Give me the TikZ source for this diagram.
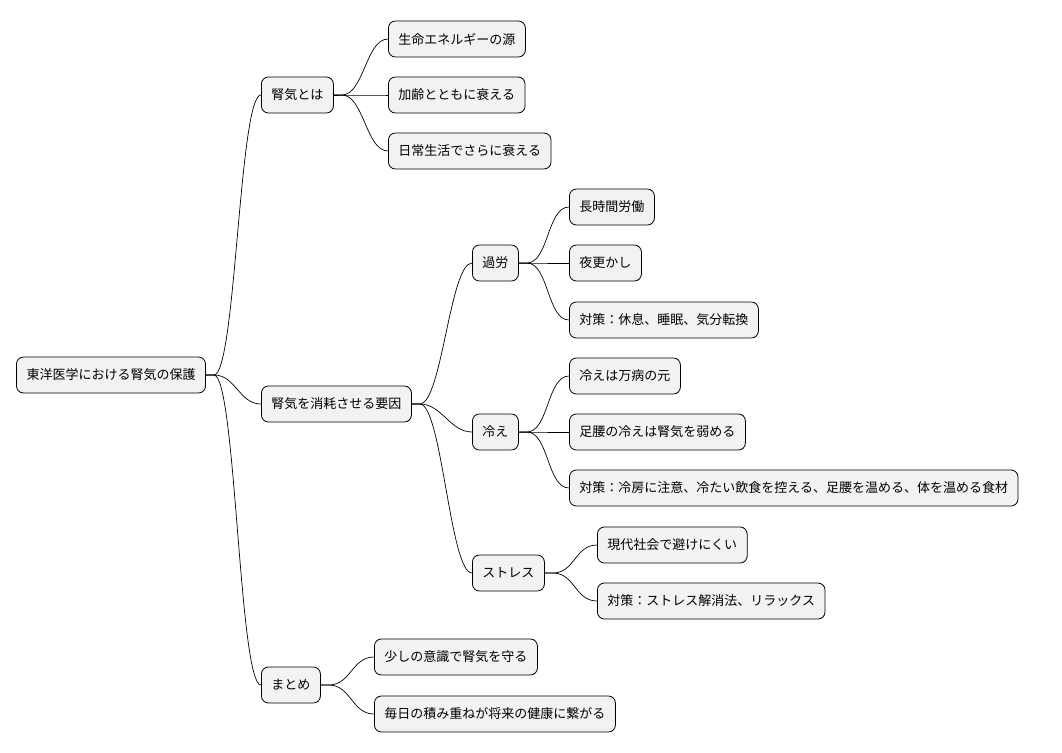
\documentclass[tikz,border=0pt]{standalone}
\usepackage{fontspec}
\setmainfont{Noto Sans CJK JP}
\usetikzlibrary{positioning}
\tikzset{
  topic/.style={rectangle, draw, fill=black!5, rounded corners=7pt, minimum height=36pt,
    inner xsep=10pt, font=\fontsize{13}{15}\selectfont, line width=0.8pt},
  branch/.style={draw, line width=0.7pt}
}
\newcommand{\branchto}[2]{\draw[branch] (#1.east) -- ++(8,0) .. controls +(22,0) and +(-22,0) .. (#2.west);}
\begin{document}
\begin{tikzpicture}[x=1pt,y=-1pt]
  \useasboundingbox (0,0) rectangle (1062,752);
  % Place nodes
  \node [topic] (root) at (111,375) {東洋医学における腎気の保護};
  \node [topic, anchor=west] (kiwa) at (261,95) {腎気とは};
  \node [topic, anchor=west] (k1) at (388,39) {生命エネルギーの源};
  \node [topic, anchor=west] (k2) at (388,95) {加齢とともに衰える};
  \node [topic, anchor=west] (k3) at (388,151) {日常生活でさらに衰える};
  \node [topic, anchor=west] (yoin) at (261,404) {腎気を消耗させる要因};
  \node [topic, anchor=west] (karo) at (472,263) {過労};
  \node [topic, anchor=west] (karo1) at (569,207) {長時間労働};
  \node [topic, anchor=west] (karo2) at (569,263) {夜更かし};
  \node [topic, anchor=west] (karo3) at (569,320) {対策：休息、睡眠、気分転換};
  \node [topic, anchor=west] (hie) at (472,432) {冷え};
  \node [topic, anchor=west] (hie1) at (569,376) {冷えは万病の元};
  \node [topic, anchor=west] (hie2) at (569,432) {足腰の冷えは腎気を弱める};
  \node [topic, anchor=west] (hie3) at (569,488) {対策：冷房に注意、冷たい飲食を控える、足腰を温める、体を温める食材};
  \node [topic, anchor=west] (stress) at (472,573) {ストレス};
  \node [topic, anchor=west] (stress1) at (597,545) {現代社会で避けにくい};
  \node [topic, anchor=west] (stress2) at (597,601) {対策：ストレス解消法、リラックス};
  \node [topic, anchor=west] (matome) at (261,685) {まとめ};
  \node [topic, anchor=west] (matome1) at (374,657) {少しの意識で腎気を守る};
  \node [topic, anchor=west] (matome2) at (374,714) {毎日の積み重ねが将来の健康に繋がる};
  % Draw edges
  \foreach \a/\b in {root/kiwa, root/yoin, root/matome, kiwa/k1, kiwa/k2, kiwa/k3,
      yoin/karo, yoin/hie, yoin/stress, karo/karo1, karo/karo2, karo/karo3,
      hie/hie1, hie/hie2, hie/hie3, stress/stress1, stress/stress2,
      matome/matome1, matome/matome2}
    {\branchto{\a}{\b}}
\end{tikzpicture}
\end{document}
